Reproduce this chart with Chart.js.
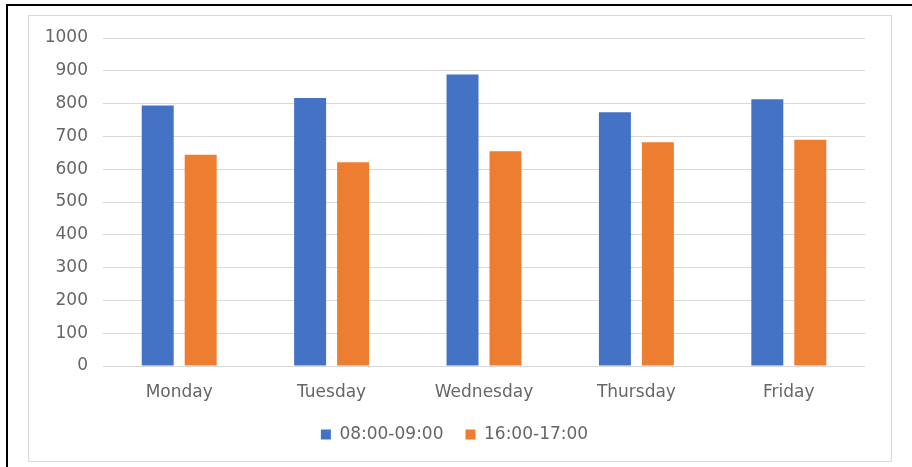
<!DOCTYPE html>
<html>
<head>
<meta charset="utf-8">
<script src="https://cdn.jsdelivr.net/npm/chart.js@4"></script>
<style>
    html, body { margin: 0; padding: 0; background: #fff; }
    #wrap { position: relative; width: 912px; height: 467px; overflow: hidden; }
    #outer { position: absolute; left: 6px; top: 4px; width: 920px; height: 480px; border-left: 2px solid #000; border-top: 2px solid #000; }
    #frame { position: absolute; left: 28px; top: 15px; width: 862px; height: 445px; border: 1px solid #d9d9d9; }
    canvas { position: absolute; left: 0; top: 0; }
</style>
</head>
<body>
<div id="wrap">
    <div id="outer"></div>
    <div id="frame"></div>
    <canvas id="chart" width="912" height="467"></canvas>
</div>
<script>
// данные с картинки
const days = ['Monday', 'Tuesday', 'Wednesday', 'Thursday', 'Friday'];
const morning = [794, 817, 889, 774, 813];
const evening = [644, 621, 655, 682, 690];
const seriesNames = ['08:00-09:00', '16:00-17:00'];

const textColor = '#666666';
const font = { family: 'DejaVu Sans', size: 17 };

new Chart(document.getElementById('chart'), {
    type: 'bar',
    data: {
        labels: days,
        datasets: [
            { label: seriesNames[0], data: morning, backgroundColor: '#4472C4' },
            { label: seriesNames[1], data: evening, backgroundColor: '#ED7D31' }
        ]
    },
    options: {
        responsive: false,
        animation: false,
        devicePixelRatio: 1,
        layout: { padding: { left: 44, right: 47, top: 38, bottom: 14 } },
        datasets: { bar: { categoryPercentage: 0.564, barPercentage: 0.744 } },
        scales: {
            x: {
                grid: { display: false },
                border: { display: false },
                ticks: { color: textColor, font: font, padding: 8, maxRotation: 0 },
                afterFit: function(scale) { scale.height = 38; }
            },
            y: {
                min: 0,
                max: 1000,
                ticks: {
                    stepSize: 100,
                    color: textColor,
                    font: font,
                    padding: 15,
                    callback: function(value) { return String(value); } // без запятой
                },
                grid: { color: '#d9d9d9', lineWidth: 1, drawTicks: false },
                border: { display: false },
                afterFit: function(scale) { scale.width = 59; }
            }
        },
        plugins: {
            legend: {
                position: 'bottom',
                labels: { color: textColor, font: font, boxWidth: 10, boxHeight: 10, padding: 22 }
            },
            tooltip: { enabled: false }
        }
    }
});
</script>
</body>
</html>
